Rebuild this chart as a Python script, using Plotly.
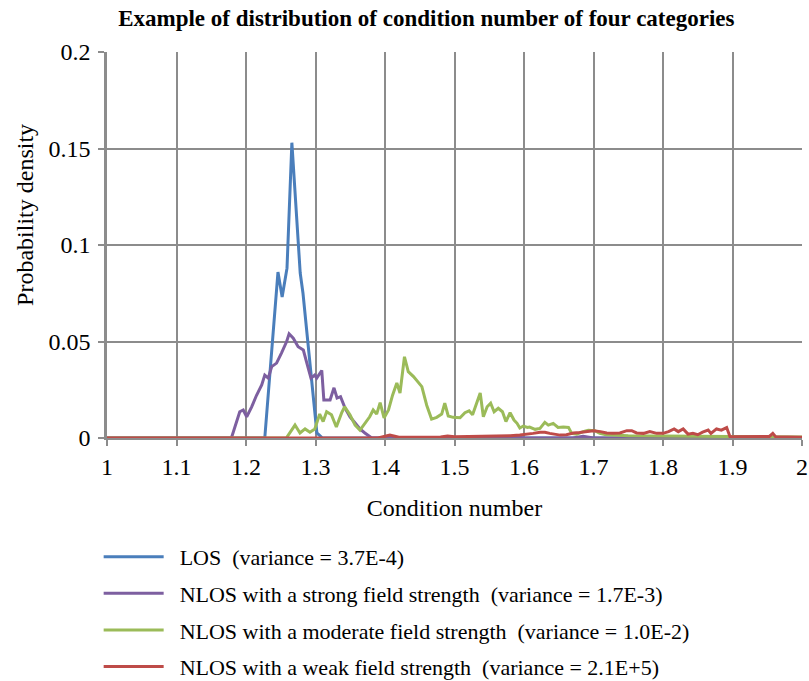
import plotly.graph_objects as go

# ---- data ----
los_x = [1.0, 1.227, 1.246, 1.252, 1.259, 1.266, 1.278, 1.282, 1.302, 1.31, 2.0]
los_y = [0.0, 0.0, 0.086, 0.073, 0.088, 0.153, 0.0855, 0.075, 0.0026, 0.0, 0.0]

strong_x = [1.0, 1.179, 1.191, 1.196, 1.201, 1.208, 1.215, 1.2226, 1.227, 1.232, 1.237,
            1.244, 1.251, 1.2585, 1.262, 1.268, 1.275, 1.2825, 1.2897, 1.2935, 1.299,
            1.3017, 1.309, 1.312, 1.321, 1.3266, 1.331, 1.336, 1.3425, 1.3496, 1.357,
            1.364, 1.371, 1.381, 1.40, 1.405, 1.41, 1.53, 1.54, 1.55, 1.58, 1.59, 1.60,
            1.67, 1.685, 1.70, 1.78, 2.0]
strong_y = [0.0, 0.0, 0.0136, 0.0145, 0.011, 0.016, 0.022, 0.0275, 0.0326, 0.031, 0.037,
            0.0388, 0.044, 0.050, 0.054, 0.0517, 0.0473, 0.0456, 0.036, 0.031, 0.0326,
            0.031, 0.035, 0.0197, 0.0197, 0.026, 0.0207, 0.0214, 0.0155, 0.011, 0.0078,
            0.0047, 0.0026, 0.0, 0.0, 0.0008, 0.0, 0.0, 0.0008, 0.0, 0.0, 0.0008, 0.0,
            0.0, 0.0009, 0.0, 0.0, 0.0]

moderate_x = [1.0, 1.258, 1.2705, 1.2777, 1.285, 1.292, 1.299, 1.306, 1.311, 1.316,
              1.323, 1.330, 1.3376, 1.342, 1.3496, 1.357, 1.364, 1.371, 1.378, 1.383,
              1.388, 1.393, 1.3986, 1.405, 1.411, 1.417, 1.4216, 1.428, 1.4335, 1.441,
              1.4456, 1.453, 1.460, 1.467, 1.4744, 1.4816, 1.486, 1.491, 1.498, 1.508,
              1.515, 1.521, 1.526, 1.531, 1.537, 1.5415, 1.547, 1.552, 1.557, 1.563,
              1.569, 1.574, 1.580, 1.5856, 1.590, 1.594, 1.599, 1.605, 1.608, 1.616,
              1.623, 1.630, 1.635, 1.642, 1.649, 1.6565, 1.664, 1.6686, 1.676, 1.685,
              1.6925, 1.702, 1.709, 1.718, 1.75, 1.80, 1.85, 1.90, 1.95, 2.0]
moderate_y = [0.0, 0.0, 0.0067, 0.0026, 0.0047, 0.003, 0.0047, 0.0124, 0.0085, 0.0136,
              0.012, 0.0057, 0.013, 0.0162, 0.012, 0.0067, 0.0041, 0.0078, 0.011, 0.0145,
              0.0124, 0.0183, 0.0104, 0.0145, 0.0223, 0.0285, 0.0233, 0.0421, 0.0344, 0.0318,
              0.030, 0.0266, 0.017, 0.0098, 0.0107, 0.0124, 0.018, 0.0114, 0.0107, 0.0105,
              0.0131, 0.0141, 0.012, 0.017, 0.0233, 0.011, 0.0162, 0.018, 0.0136, 0.0154,
              0.0136, 0.0085, 0.0131, 0.0093, 0.0076, 0.0052, 0.0062, 0.0055, 0.0057, 0.0045,
              0.005, 0.0081, 0.0067, 0.0076, 0.0055, 0.0057, 0.0055, 0.0024, 0.002, 0.0033,
              0.004, 0.0038, 0.0024, 0.0017, 0.0012, 0.001, 0.0008, 0.0007, 0.0005, 0.0005]

weak_x = [1.0, 1.39, 1.407, 1.42, 1.48, 1.49, 1.50, 1.55, 1.58, 1.594, 1.60, 1.613,
          1.623, 1.63, 1.637, 1.645, 1.652, 1.661, 1.671, 1.68, 1.690, 1.70, 1.71,
          1.719, 1.728, 1.738, 1.748, 1.755, 1.762, 1.772, 1.781, 1.791, 1.800, 1.808,
          1.816, 1.822, 1.829, 1.836, 1.843, 1.850, 1.857, 1.865, 1.869, 1.877, 1.884,
          1.8916, 1.8964, 1.905, 1.94, 1.953, 1.958, 1.962, 1.98, 2.0]
weak_y = [0.0, 0.0, 0.0015, 0.0004, 0.0005, 0.001, 0.0006, 0.0008, 0.0012, 0.0015, 0.0017,
          0.0024, 0.003, 0.003, 0.0024, 0.002, 0.0015, 0.0017, 0.0026, 0.0028, 0.0033,
          0.0038, 0.0033, 0.0026, 0.0024, 0.0026, 0.0038, 0.0038, 0.0026, 0.0024, 0.0033,
          0.0024, 0.0024, 0.0033, 0.0047, 0.0033, 0.0047, 0.002, 0.0024, 0.0017, 0.003,
          0.0041, 0.0024, 0.0047, 0.0041, 0.0054, 0.0007, 0.0007, 0.0007, 0.0008, 0.0024,
          0.0007, 0.0005, 0.0004]

names = ["LOS  (variance = 3.7E-4)",
         "NLOS with a strong field strength  (variance = 1.7E-3)",
         "NLOS with a moderate field strength  (variance = 1.0E-2)",
         "NLOS with a weak field strength  (variance = 2.1E+5)"]
colors = ["#4A7EBB", "#7D5FA0", "#9BBB59", "#BE4B48"]

x_ticks = [1.0, 1.1, 1.2, 1.3, 1.4, 1.5, 1.6, 1.7, 1.8, 1.9, 2.0]
x_ticklabels = ["1", "1.1", "1.2", "1.3", "1.4", "1.5", "1.6", "1.7", "1.8", "1.9", "2"]
y_ticks = [0, 0.05, 0.1, 0.15, 0.2]
y_ticklabels = ["0", "0.05", "0.1", "0.15", "0.2"]

series = [(los_x, los_y), (strong_x, strong_y), (moderate_x, moderate_y), (weak_x, weak_y)]

fig = go.Figure()
for i, ((xs, ys), nm, c) in enumerate(zip(series, names, colors)):
    fig.add_trace(go.Scatter(x=xs, y=ys, mode="lines", name="\u00a0\u00a0" + nm,
                             legendgroup=str(i),
                             line=dict(color=c, width=3)))

serif = "Liberation Serif, Times New Roman, serif"
grid = "#8c8c8c"

fig.update_layout(
    width=809, height=681,
    margin=dict(l=107, r=7, t=52, b=243, autoexpand=False),
    paper_bgcolor="white", plot_bgcolor="white",
    font=dict(family=serif, size=22, color="black"),
    title=dict(text="<b>Example of distribution of condition number of four categories</b>",
               x=0.527, xanchor="center", y=0.973, yanchor="middle",
               font=dict(family=serif, size=23, color="black")),
    showlegend=True,
    legend=dict(x=-0.012, xanchor="left", yref="container", y=0.213, yanchor="top",
                orientation="v", font=dict(family=serif, size=22, color="black"),
                itemwidth=60, tracegroupgap=5, bgcolor="rgba(0,0,0,0)"),
    xaxis=dict(range=[1, 2], tickvals=x_ticks, ticktext=x_ticklabels,
               showgrid=True, gridcolor=grid, gridwidth=1.5,
               showline=True, linecolor=grid, linewidth=2, mirror=False,
               ticks="outside", ticklen=6, tickcolor=grid, tickwidth=1.5,
               zeroline=False,
               title=dict(text="Condition number", font=dict(size=24), standoff=20),
               tickfont=dict(size=24)),
    yaxis=dict(range=[0, 0.2], tickvals=y_ticks, ticktext=y_ticklabels,
               showgrid=True, gridcolor=grid, gridwidth=1.5,
               showline=True, linecolor=grid, linewidth=2.5,
               ticks="outside", ticklen=6, tickcolor=grid, tickwidth=1.5,
               ticklabelstandoff=3,
               zeroline=False,
               tickfont=dict(size=24)),
    annotations=[dict(text="Probability density", textangle=-90,
                      xref="paper", yref="paper", x=-0.118, y=0.578,
                      xanchor="center", yanchor="middle", showarrow=False,
                      font=dict(family=serif, size=24, color="black"))],
)

fig.write_html("out.html")
